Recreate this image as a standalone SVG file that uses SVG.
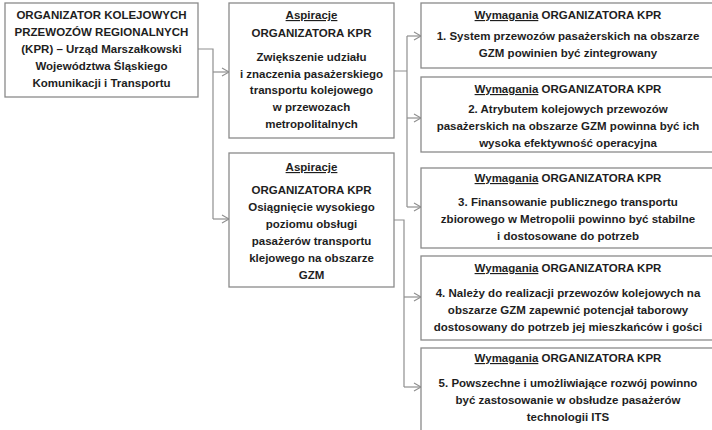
<svg xmlns="http://www.w3.org/2000/svg" width="712" height="430" viewBox="0 0 712 430">
<style>
.box{fill:#fff;stroke:#8a8a8a;stroke-width:1.3}
.t{font-family:"Liberation Sans",Arial,sans-serif;font-weight:bold;font-size:11.5px;fill:#1e1e1e;text-anchor:middle}
.u{text-decoration:underline}
.c{fill:none;stroke:#8f8f8f;stroke-width:1.2}
</style>
<defs>
<marker id="ah" markerWidth="10" markerHeight="10" refX="8" refY="5" orient="auto" markerUnits="userSpaceOnUse">
<path d="M1,1 L8,5 L1,9" fill="none" stroke="#8f8f8f" stroke-width="1.1"/>
</marker>
</defs>
<rect width="712" height="430" fill="#fff"/>
<g id="connectors">
<path class="c" d="M198,49 H213 V219"/>
<path class="c" d="M213,72 H229" marker-end="url(#ah)"/>
<path class="c" d="M213,219 H229" marker-end="url(#ah)"/>
<path class="c" d="M394,71 H407 M407,36 V207"/>
<path class="c" d="M407,36 H421" marker-end="url(#ah)"/>
<path class="c" d="M407,118 H421" marker-end="url(#ah)"/>
<path class="c" d="M407,207 H421" marker-end="url(#ah)"/>
<path class="c" d="M394,220 H404 V387"/>
<path class="c" d="M404,297 H421" marker-end="url(#ah)"/>
<path class="c" d="M404,387 H421" marker-end="url(#ah)"/>
</g>
<g id="organizator">
<rect class="box" x="5" y="3" width="193" height="94"/>
<text class="t" x="101.5" y="19">ORGANIZATOR KOLEJOWYCH</text>
<text class="t" x="101.5" y="36">PRZEWOZÓW REGIONALNYCH</text>
<text class="t" x="101.5" y="53">(KPR) – Urząd Marszałkowski</text>
<text class="t" x="101.5" y="70">Województwa Śląskiego</text>
<text class="t" x="101.5" y="87">Komunikacji i Transportu</text>
</g>
<g id="aspiracja1">
<rect class="box" x="229" y="3" width="165" height="135"/>
<text class="t u" x="311.5" y="19">Aspiracje</text>
<text class="t" x="311.5" y="37">ORGANIZATORA KPR</text>
<text class="t" x="311.5" y="61">Zwiększenie udziału</text>
<text class="t" x="311.5" y="78">i znaczenia pasażerskiego</text>
<text class="t" x="311.5" y="94">transportu kolejowego</text>
<text class="t" x="311.5" y="111">w przewozach</text>
<text class="t" x="311.5" y="128">metropolitalnych</text>
</g>
<g id="aspiracja2">
<rect class="box" x="229" y="153" width="165" height="134"/>
<text class="t u" x="311.5" y="171">Aspiracje</text>
<text class="t" x="311.5" y="194">ORGANIZATORA KPR</text>
<text class="t" x="311.5" y="211">Osiągnięcie wysokiego</text>
<text class="t" x="311.5" y="228">poziomu obsługi</text>
<text class="t" x="311.5" y="245">pasażerów transportu</text>
<text class="t" x="311.5" y="262">klejowego na obszarze</text>
<text class="t" x="311.5" y="279">GZM</text>
</g>
<g id="wymaganie1">
<rect class="box" x="421" y="3" width="300" height="65"/>
<text class="t" x="568" y="19"><tspan class="u">Wymagania</tspan> ORGANIZATORA KPR</text>
<text class="t" x="568" y="40">1. System przewozów pasażerskich na obszarze</text>
<text class="t" x="568" y="57">GZM powinien być zintegrowany</text>
</g>
<g id="wymaganie2">
<rect class="box" x="421" y="77" width="300" height="75"/>
<text class="t" x="568" y="93"><tspan class="u">Wymagania</tspan> ORGANIZATORA KPR</text>
<text class="t" x="568" y="113">2. Atrybutem kolejowych przewozów</text>
<text class="t" x="568" y="130">pasażerskich na obszarze GZM powinna być ich</text>
<text class="t" x="568" y="147">wysoka efektywność operacyjna</text>
</g>
<g id="wymaganie3">
<rect class="box" x="421" y="168" width="300" height="80"/>
<text class="t" x="568" y="182"><tspan class="u">Wymagania</tspan> ORGANIZATORA KPR</text>
<text class="t" x="568" y="206">3. Finansowanie publicznego transportu</text>
<text class="t" x="568" y="223">zbiorowego w Metropolii powinno być stabilne</text>
<text class="t" x="568" y="240">i dostosowane do potrzeb</text>
</g>
<g id="wymaganie4">
<rect class="box" x="421" y="256" width="300" height="84"/>
<text class="t" x="568" y="272"><tspan class="u">Wymagania</tspan> ORGANIZATORA KPR</text>
<text class="t" x="568" y="297">4. Należy do realizacji przewozów kolejowych na</text>
<text class="t" x="568" y="314">obszarze GZM zapewnić potencjał taborowy</text>
<text class="t" x="568" y="331">dostosowany do potrzeb jej mieszkańców i gości</text>
</g>
<g id="wymaganie5">
<rect class="box" x="421" y="348" width="300" height="95"/>
<text class="t" x="568" y="362"><tspan class="u">Wymagania</tspan> ORGANIZATORA KPR</text>
<text class="t" x="568" y="387">5. Powszechne i umożliwiające rozwój powinno</text>
<text class="t" x="568" y="404">być zastosowanie w obsłudze pasażerów</text>
<text class="t" x="568" y="421">technologii ITS</text>
</g>
</svg>
